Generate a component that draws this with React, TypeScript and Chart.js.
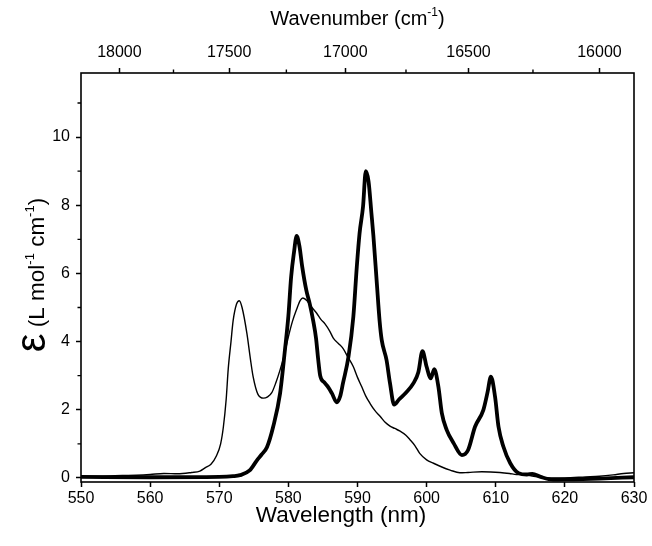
import React, { useEffect, useRef } from 'react';
import { Chart, registerables } from 'chart.js';

Chart.register(...registerables);

// Thick curve (wavelength nm, epsilon)
const thickX = [550, 560, 570, 572, 573, 574.4, 575.4, 576.1, 576.9, 577.8, 578.8, 579.5, 580.0, 580.4, 580.8, 581.2, 581.6, 582.0, 582.6, 583.1, 583.6, 584.0, 584.3, 584.6, 585.2, 585.8, 586.3, 587.0, 587.5, 587.9, 588.7, 589.4, 589.9, 590.3, 590.8, 591.2, 591.6, 592.0, 592.3, 592.8, 593.2, 593.5, 594.2, 594.7, 595.3, 596.0, 597.0, 598.1, 598.8, 599.4, 600.0, 600.6, 601.1, 601.7, 602.2, 602.9, 603.9, 605.1, 606.0, 607.0, 608.2, 608.8, 609.3, 609.9, 610.4, 611.1, 612.1, 613.3, 614.5, 615.3, 616.5, 618.3, 621, 625, 630];
const thickY = [0.03, 0.02, 0.03, 0.05, 0.08, 0.22, 0.5, 0.68, 0.9, 1.5, 2.48, 3.75, 4.75, 5.9, 6.6, 7.1, 6.8, 6.2, 5.5, 5.1, 4.6, 4.1, 3.5, 3.0, 2.8, 2.65, 2.48, 2.22, 2.4, 2.78, 3.56, 4.73, 6.2, 7.18, 7.96, 9.0, 8.7, 7.8, 7.1, 5.7, 4.6, 4.05, 3.46, 2.78, 2.15, 2.3, 2.5, 2.78, 3.1, 3.72, 3.26, 2.92, 3.19, 2.68, 1.9, 1.41, 1.02, 0.67, 0.82, 1.5, 1.99, 2.5, 2.97, 2.38, 1.5, 0.92, 0.43, 0.14, 0.1, 0.12, 0.03, -0.05, -0.04, -0.02, 0.02];

// Thin curve (wavelength nm, epsilon)
const thinX = [550, 553, 556, 558, 560, 562, 564, 566, 567.2, 568, 568.8, 569.6, 570.2, 570.6, 571.0, 571.3, 571.7, 572.0, 572.5, 572.9, 573.3, 574.0, 574.5, 574.9, 575.6, 576.4, 577.0, 577.6, 578.2, 578.8, 579.4, 580.0, 580.6, 581.2, 581.7, 582.1, 582.7, 583.2, 584.1, 584.7, 585.3, 586.0, 586.5, 587.2, 587.9, 588.6, 589.4, 590.0, 590.6, 591.2, 591.8, 592.5, 593.3, 594.0, 594.7, 595.4, 596.1, 597.0, 597.6, 598.3, 599.0, 600.0, 601.0, 602.2, 603.4, 604.8, 606, 608, 610.6, 612, 613, 614, 615.5, 617.4, 620, 623, 625, 627, 628.5, 630];
const thinY = [0.05, 0.05, 0.07, 0.08, 0.1, 0.13, 0.12, 0.16, 0.2, 0.3, 0.4, 0.65, 1.0, 1.5, 2.3, 3.2, 4.0, 4.6, 5.1, 5.2, 5.0, 4.24, 3.5, 2.97, 2.45, 2.34, 2.38, 2.5, 2.8, 3.17, 3.6, 4.14, 4.6, 4.95, 5.2, 5.28, 5.2, 5.05, 4.83, 4.65, 4.52, 4.3, 4.1, 3.95, 3.8, 3.55, 3.26, 2.95, 2.68, 2.4, 2.19, 1.98, 1.8, 1.63, 1.52, 1.45, 1.38, 1.25, 1.12, 0.95, 0.72, 0.53, 0.43, 0.32, 0.23, 0.15, 0.16, 0.18, 0.16, 0.13, 0.1, 0.1, 0.05, 0.0, 0.0, 0.03, 0.05, 0.09, 0.13, 0.15];

const wavelengthTicks = [550, 560, 570, 580, 590, 600, 610, 620, 630];
const yMajorTicks = [0, 2, 4, 6, 8, 10];
const yMinorTicks = [1, 3, 5, 7, 9, 11];
const wavenumberMajor = [18000, 17500, 17000, 16500, 16000];
const wavenumberMinor = [17750, 17250, 16750, 16250];

const FONT = "'Liberation Sans', Arial, sans-serif";

type Seg = { t: string; size: number; dy?: number };

function drawRich(ctx: CanvasRenderingContext2D, segs: Seg[], cx: number, cy: number) {
  let total = 0;
  const widths = segs.map((s) => {
    ctx.font = `${s.size}px ${FONT}`;
    const w = ctx.measureText(s.t).width;
    total += w;
    return w;
  });
  let x = cx - total / 2;
  ctx.textBaseline = 'alphabetic';
  ctx.textAlign = 'left';
  segs.forEach((s, i) => {
    ctx.font = `${s.size}px ${FONT}`;
    ctx.fillText(s.t, x, cy + (s.dy || 0));
    x += widths[i];
  });
}

const framePlugin = {
  id: 'frameAndTitles',
  afterDraw(chart: any) {
    const { ctx, chartArea } = chart;
    const { left, right, top, bottom } = chartArea;
    const y = chart.scales.y;
    const x2 = chart.scales.x2;
    ctx.save();
    ctx.strokeStyle = '#000';
    ctx.fillStyle = '#000';
    ctx.lineWidth = 1.6;
    ctx.strokeRect(left, top, right - left, bottom - top);
    // minor ticks
    ctx.lineWidth = 1.4;
    ctx.beginPath();
    yMinorTicks.forEach((v) => {
      const py = y.getPixelForValue(v);
      ctx.moveTo(left, py);
      ctx.lineTo(left - 3.5, py);
    });
    wavenumberMinor.forEach((n) => {
      const px = x2.getPixelForValue(1e7 / n);
      ctx.moveTo(px, top);
      ctx.lineTo(px, top - 3.5);
    });
    ctx.stroke();

    // titles
    const cx = (left + right) / 2;
    drawRich(ctx, [{ t: 'Wavelength (nm)', size: 22.5 }], 341, 522);
    drawRich(ctx, [
      { t: 'Wavenumber (cm', size: 20 },
      { t: '-1', size: 12, dy: -9 },
      { t: ')', size: 20 },
    ], cx, 25);

    ctx.translate(44, 275);
    ctx.rotate(-Math.PI / 2);
    drawRich(ctx, [
      { t: 'ε', size: 42, dy: 1 },
      { t: ' (L mol', size: 22.5 },
      { t: '-1', size: 13, dy: -10 },
      { t: ' cm', size: 22.5 },
      { t: '-1', size: 13, dy: -10 },
      { t: ')', size: 22.5 },
    ], 0, 0);
    ctx.restore();
  },
};

export default function App() {
  const ref = useRef<HTMLCanvasElement>(null);
  useEffect(() => {
    document.body.style.margin = '0';
    const canvas = ref.current!;
    const tickFont = { family: FONT, size: 16 };
    const gridCommon = {
      display: true,
      drawOnChartArea: false,
      drawTicks: true,
      tickLength: 5,
      tickWidth: 1.5,
      tickColor: '#000',
    };
    const chart = new Chart(canvas, {
      type: 'line',
      data: {
        datasets: [
          {
            label: 'thin',
            data: thinX.map((x, i) => ({ x, y: thinY[i] })),
            borderColor: '#000',
            borderWidth: 1.4,
            pointRadius: 0,
            cubicInterpolationMode: 'monotone',
            xAxisID: 'x',
            yAxisID: 'y',
          },
          {
            label: 'thick',
            data: thickX.map((x, i) => ({ x, y: thickY[i] })),
            borderColor: '#000',
            borderWidth: 3.8,
            pointRadius: 0,
            cubicInterpolationMode: 'monotone',
            xAxisID: 'x',
            yAxisID: 'y',
          },
        ],
      },
      options: {
        responsive: false,
        animation: false,
        layout: { padding: { left: 0, right: 18, top: 0, bottom: 0 } },
        plugins: { legend: { display: false }, tooltip: { enabled: false } },
        scales: {
          x: {
            type: 'linear',
            position: 'bottom',
            min: 550,
            max: 630,
            afterBuildTicks: (s: any) => {
              s.ticks = wavelengthTicks.map((v) => ({ value: v }));
            },
            afterFit: (s: any) => {
              s.height = 64;
            },
            grid: gridCommon,
            border: { display: false },
            ticks: { color: '#000', font: tickFont, padding: 2, maxRotation: 0, autoSkip: false },
          },
          x2: {
            type: 'linear',
            position: 'top',
            min: 550,
            max: 630,
            afterBuildTicks: (s: any) => {
              s.ticks = wavenumberMajor.map((n) => ({ value: 1e7 / n }));
            },
            afterFit: (s: any) => {
              s.height = 73;
            },
            grid: gridCommon,
            border: { display: false },
            ticks: {
              color: '#000',
              font: tickFont,
              padding: 6,
              maxRotation: 0,
              autoSkip: false,
              callback: (v: any) => String(Math.round(1e7 / Number(v))),
            },
          },
          y: {
            type: 'linear',
            position: 'left',
            min: -0.12,
            max: 11.88,
            afterBuildTicks: (s: any) => {
              s.ticks = yMajorTicks.map((v) => ({ value: v }));
            },
            afterFit: (s: any) => {
              s.width = 81;
            },
            grid: gridCommon,
            border: { display: false },
            ticks: { color: '#000', font: tickFont, padding: 6, autoSkip: false },
          },
        },
      },
      plugins: [framePlugin],
    } as any);
    return () => chart.destroy();
  }, []);
  return <canvas ref={ref} width={652} height={546} style={{ display: 'block' }} />;
}
